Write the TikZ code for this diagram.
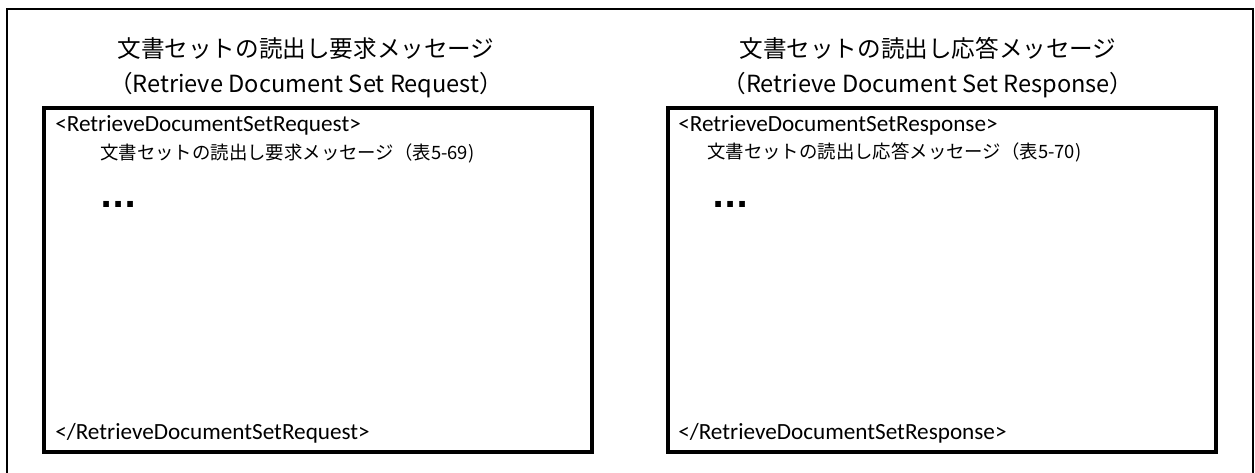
\documentclass[tikz,border=0pt]{standalone}
\usepackage{fontspec}
\usetikzlibrary{positioning}
\newfontfamily\jpfont{Noto Sans CJK JP}
\newfontfamily\tagfont{Carlito}
\newfontfamily\dotfont{DejaVu Sans}

\begin{document}
\begin{tikzpicture}[x=0.75pt,y=-0.75pt,
        msgbox/.style={rectangle,draw,line width=2.6pt,minimum width=411pt,
          minimum height=258pt,inner sep=0pt},
        heading/.style={align=center,inner sep=0pt,
          font=\jpfont\fontsize{17.7pt}{26.25pt}\selectfont},
        tagline/.style={anchor=west,inner sep=0pt,
          font=\tagfont\fontsize{17.4pt}{20pt}\selectfont},
        noteline/.style={anchor=west,inner sep=0pt,
          font=\jpfont\fontsize{13.8pt}{16pt}\selectfont},
        moreline/.style={anchor=west,inner sep=0pt,
          font=\dotfont\bfseries\fontsize{24pt}{26pt}\selectfont}]
        \useasboundingbox (0,0) rectangle (1255,472);
        \draw[line width=1.1pt] (7,9) rectangle (1253,480);
        % request side
        \node[msgbox] (req) at (318,280) {};
        \node[heading] (reqtitle) at (306,68) {文書セットの読出し要求メッセージ\\（Retrieve Document Set Request）};
        \node[tagline] (reqopen) at (55,125) {<RetrieveDocumentSetRequest>};
        \node[noteline] (reqnote) at (100,153) {文書セットの読出し要求メッセージ（表5-69)};
        \node[moreline] (reqmore) at (100,204) {...};
        \node[tagline] (reqclose) at (55,433) {</RetrieveDocumentSetRequest>};
        % response side
        \node[msgbox] (res) at (942,280) {};
        \node[heading] (restitle) at (928,68) {文書セットの読出し応答メッセージ\\（Retrieve Document Set Response）};
        \node[tagline] (resopen) at (678,125) {<RetrieveDocumentSetResponse>};
        \node[noteline] (resnote) at (707,152) {文書セットの読出し応答メッセージ（表5-70)};
        \node[moreline] (resmore) at (712,204) {...};
        \node[tagline] (resclose) at (678,433) {</RetrieveDocumentSetResponse>};
      \end{tikzpicture}
\end{document}
